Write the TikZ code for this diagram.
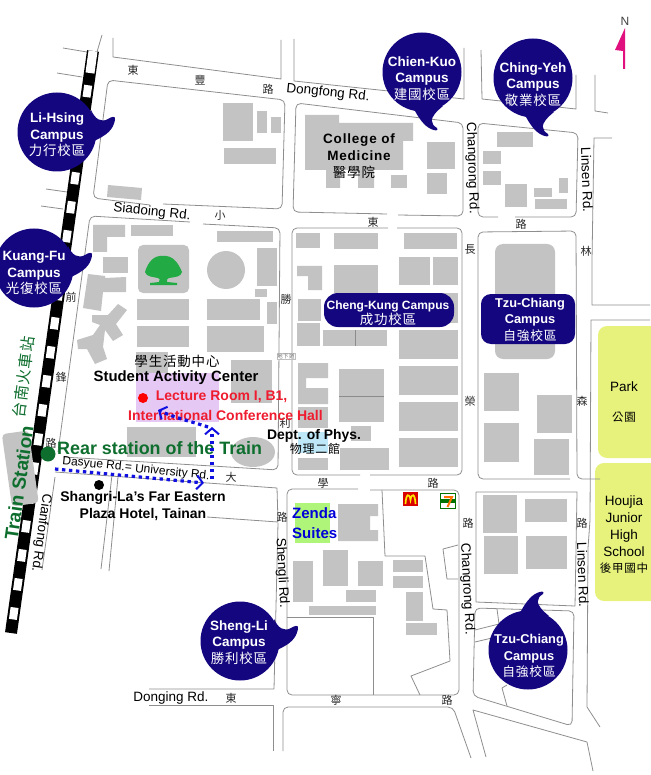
\documentclass[tikz,border=0pt]{standalone}
\usepackage{fontspec}
\setmainfont{Liberation Sans}
\newfontfamily\cjk[LetterSpace=6]{Noto Sans CJK TC}
\newfontfamily\widebf[LetterSpace=6]{Liberation Sans Bold}
\usetikzlibrary{arrows.meta}
\definecolor{campus}{HTML}{14067F}
\definecolor{bldg}{HTML}{C3C3C3}
\definecolor{street}{HTML}{8E8E8E}
\definecolor{parkgreen}{HTML}{E6F27C}
\definecolor{stationgreen}{HTML}{0E6E2E}
\definecolor{route}{HTML}{1010E0}
\definecolor{hall}{HTML}{EE1C2E}
\definecolor{northarrow}{HTML}{E0107F}
\newcommand{\zh}[1]{{\cjk\mdseries #1}}
\tikzset{
  street/.style={draw=street,line width=0.8pt,line join=round},
  blockline/.style={street,rounded corners=5pt},
  campustxt/.style={text=white,align=center,inner sep=0pt,font=\bfseries\fontsize{13.5}{16.5}\selectfont},
  tzutxt/.style={campustxt,font=\bfseries\fontsize{12.8}{16.5}\selectfont},
  maplabel/.style={inner sep=0pt,align=center,font=\fontsize{13.5}{15}\selectfont},
  boldlabel/.style={maplabel,font=\bfseries\fontsize{14}{17.5}\selectfont},
  roadch/.style={inner sep=0pt,text=black!85,font=\cjk\fontsize{11}{11}\selectfont},
  routeline/.style={draw=route,line width=3.2pt,dash pattern=on 3.4pt off 3.6pt,-{Straight Barb[length=6pt,width=14pt,line width=2pt]}},
  pics/tailright/.style={code={
    \fill[campus] (34,-22) .. controls (38,-13) and (44,-9) .. (51,-13) .. controls (54,-15) and (59,-17) .. (58,-12) .. controls (56,-2) and (50,3) .. (37,9) -- cycle;}},
  pics/taildown/.style={code={
    \fill[campus] (-8,37) .. controls (-4,45) and (2,54) .. (9,57) .. controls (13,59) and (17,59) .. (15,56) .. controls (9,52) and (5,47) .. (21,34) -- cycle;}},
}
\begin{document}
\begin{tikzpicture}[x=1pt,y=-1pt]
  \useasboundingbox (0,0) rectangle (650,775);
  % parks and coloured plots
  \fill[parkgreen,rounded corners=9pt] (598,326) rectangle (665,458);
  \fill[parkgreen,rounded corners=9pt] (595,463) rectangle (665,601);
  \fill[fill={rgb,255:red,230;green,200;blue,245}] (136,373) rectangle (219,422);
  \fill[fill={rgb,255:red,190;green,232;blue,248}] (298,432) rectangle (328,453);
  \fill[fill={rgb,255:red,174;green,245;blue,122}] (295,503) rectangle (330,543);
  % buildings
  \foreach \xa/\ya/\xb/\yb in {223/103/253/141,257/111/267/133,271/117/281/133,224/148/276/164,
    131/225/173/236,103/257/128/273,137/299/189/320,137/326/189/347,207/299/260/320,207/326/264/352,
    217/231/273/242,257/248/277/286,255/289/267/297,267/302/277/324,136/352/168/373,231/360/272/403,
    127/427/196/457,391/175/407/188,427/142/455/169,427/173/447/194,
    497/132/533/147,483/151/501/164,483/171/501/185,505/184/527/207,534/188/552/197,559/178/568/193,535/199/567/209,
    296/233/320/248,334/233/378/249,404/233/457/249,399/257/430/285,433/257/458/285,334/265/378/293,
    298/299/321/321,297/323/320/346,323/330/387/346,399/293/458/323,399/330/458/359,399/366/458/395,
    399/402/458/431,399/438/458/467,339/369/384/422,298/407/328/428,298/458/328/470,351/426/371/441,340/448/389/470,
    484/373/519/411,484/423/519/462,537/395/572/433,534/439/569/475,
    483/495/517/533,525/499/567/522,484/536/518/574,526/536/567/569,
    323/550/348/586,293/561/313/602,358/561/383/586,393/560/423/572,393/576/423/588,
    346/590/376/602,309/606/376/615,406/592/423/621,406/623/437/635}
    \fill[bldg] (\xa,\ya) rectangle (\xb,\yb);
  \fill[bldg] (108,185) -- (142,188) -- (141,200) -- (107,197) -- cycle;
  \fill[bldg] (93,225) -- (125,225) -- (125,237) -- (107,237) -- (107,252) -- (93,252) -- cycle;
  \fill[bldg] (88,274) -- (105,276) -- (105,278) -- (126,277) -- (126,292) -- (103,292) -- (101,311) -- (83,308) -- cycle;
  \fill[bldg] (118,304) -- (127,310) -- (116,324) -- (123,335) -- (113,341) -- (105,330) -- (103,347) -- (107,359)
    -- (95,364) -- (87,349) -- (78,349) -- (77,340) -- (93,335) -- (100,325) -- (92,322) -- (92,315) -- (108,315) -- cycle;
  \fill[bldg,rounded corners=5pt] (138,245) rectangle (189,293);
  \fill[bldg] (226,270) circle (19pt);
  \fill[bldg] (253,452) ellipse (22pt and 15pt);
  \fill[bldg] (305,115) -- (339,115) -- (339,123) -- (413,123) -- (413,141) -- (403,141) -- (403,170) -- (374,170) -- (374,188)
    -- (358,188) -- (358,170) -- (340,170) -- (340,188) -- (326,188) -- (326,170) -- (305,170) -- cycle;
  \fill[bldg] (297,266) -- (322,266) -- (322,290) -- (308,290) -- (308,276) -- (297,276) -- cycle;
  \fill[bldg] (298,363) -- (328,363) -- (328,378) -- (306,378) -- (306,388) -- (328,388) -- (328,404) -- (298,404) -- cycle;
  \fill[bldg] (338,504) -- (378,504) -- (378,516) -- (370,516) -- (370,530) -- (378,530) -- (378,541) -- (338,541) -- cycle;
  \fill[bldg,rounded corners=8pt] (495,244) rectangle (555,359);
  \draw[black!45,line width=0.8pt] (355,330) -- (355,346);
  \draw[black!45,line width=0.8pt] (339,396) -- (384,396);
  % tree
  \fill[fill={rgb,255:red,34;green,170;blue,68}] (163,256) .. controls (154,255) and (148,262) .. (145,272) .. controls (146,277) and (154,277) .. (158,278)
    .. controls (160,279) .. (159,282) -- (150,283) -- (150,285) -- (177,285) -- (177,283) -- (167,282) .. controls (167,279) .. (169,278)
    .. controls (175,277) and (181,277) .. (182,272) .. controls (178,262) and (172,255) .. (163,256) -- cycle;
  % streets
  \draw[street] (113,38) -- (113,57) -- (281,79) -- (281,40);
  \draw[street] (294,39) -- (294,81) -- (464,99) -- (464,48);
  \draw[street] (481,50) -- (482,99) -- (576,109) -- (576,75);
  \draw[street] (595,75) -- (595,111) -- (608,113);
  \draw[street] (63,48) -- (87,52);
  \draw[street] (57,73) -- (82,77);
  \draw[street] (46,189) -- (67,192);
  \draw[street] (41,206) -- (63,209);
  \draw[street] (102,35) -- (97,52);
  \draw[blockline] (150,205) -- (93,198) -- (108,80) -- (285,100) -- (282,209) -- (163,204);
  \draw[blockline] (387,214) -- (293,212) -- (296,103) -- (463,123) -- (463,216) -- (398,215);
  \draw[blockline] (498,217) -- (478,217) -- (478,123) -- (578,133) -- (576,217) -- (515,217);
  \draw[street] (612,138) -- (594,138) -- (592,260) -- (592,305) -- (650,305);
  \draw[street] (650,320) -- (591,320) -- (590,520) -- (588,548) -- (587,707) -- (600,727);
  \draw[blockline] (190,222) -- (90,216) -- (58,452);
  \draw[blockline] (203,224) -- (280,228) -- (278,470) -- (63,457);
  \draw[blockline] (388,228) -- (292,228) -- (292,475) -- (360,475);
  \draw[blockline] (397,228) -- (462,228) -- (462,475) -- (370,475);
  \draw[blockline] (570,479) -- (478,479) -- (478,232) -- (576,231) -- (577,479) -- (600,479);
  \draw[street] (55,477) -- (42,570);
  \draw[street] (118,477) -- (109,571);
  \draw[street] (112,475) -- (101,569);
  \draw[street] (55,472) -- (277,488) -- (278,522) -- (207,517);
  \draw[street] (278,523) -- (274,689) -- (149,689);
  \draw[street] (149,705) -- (273,705) -- (273,751);
  \draw[blockline] (283,751) -- (283,707) -- (453,707) -- (471,758);
  \draw[blockline] (358,489) -- (287,489) -- (287,695) -- (459,695) -- (459,490) -- (370,490);
  \draw[street] (382,490) -- (385,556) -- (425,556) -- (433,609) -- (447,610) -- (450,661) -- (411,676) -- (420,695);
  \draw[street] (287,617) -- (373,617) -- (373,695);
  \draw[street] (443,549) -- (458,545);
  \draw[street] (443,549) -- (447,579) -- (458,579);
  \draw[street] (476,492) -- (577,492) -- (575,606) -- (476,602) -- cycle;
  \draw[blockline] (475,608) -- (574,611) -- (572,726) -- (473,696) -- cycle;
  \draw[street] (497,609) -- (499,624) -- (475,630);
  \draw[street] (475,642) -- (492,638);
  \draw[street] (507,685) -- (502,688) -- (507,706);
  \draw[street] (486,757) -- (473,710) -- (587,742) -- (593,771);
  % railway
  \draw[black,line width=12pt] (93,51) -- (11,633);
  \draw[white,line width=8pt,dash pattern=on 12pt off 17.3pt,dash phase=24pt] (93,51) -- (11,633);
  \draw[white,line width=9pt] (93,51) -- (90,73);
  % train station
  \fill[bldg,rounded corners=4pt,rotate around={8:(20,470)}] (7,432) rectangle (34,505);
  \node[inner sep=0pt,text=stationgreen,rotate=82,font=\bfseries\fontsize{19}{19}\selectfont] (station) at (19,483) {Train Station};
  \node[inner sep=0pt,text=stationgreen,rotate=83,font=\cjk\fontsize{15.5}{15.5}\selectfont] (stationzh) at (24,377) {台南火車站};
  % single road characters
  \foreach \i/\px/\py/\ch in {1/133/70/東,2/200/80/豐,3/268/89/路,4/220/215/小,5/373/222/東,6/521/224/路,7/470/250/長,
    8/586/251/林,9/71/297/前,10/286/299/勝,11/61/377/鋒,12/51/443/路,13/285/423/利,14/231/477/大,15/323/483/學,
    16/433/483/路,17/470/401/榮,18/582/401/森,19/282/517/路,20/468/523/路,21/582/523/路,22/231/698/東,23/336/700/寧,24/447/700/路}
    \node[roadch] (rc\i) at (\px,\py) {\ch};
  \node[draw=black!25,fill=white,inner sep=0.6pt,text=black!60,font=\cjk\fontsize{5.5}{6}\selectfont] (tunnel) at (286,356) {地下道};
  % road names
  \node[maplabel,rotate=-6] (dongfong) at (328,93) {Dongfong Rd.};
  \node[maplabel,rotate=-6] (siadoing) at (152,212) {Siadoing Rd.};
  \node[maplabel,rotate=-88] (changrongN) at (472,168) {Changrong Rd.};
  \node[maplabel,rotate=-87] (changrongS) at (467,589) {Changrong Rd.};
  \node[maplabel,rotate=-88] (linsenN) at (587,180) {Linsen Rd.};
  \node[maplabel,rotate=-88] (linsenS) at (583,575) {Linsen Rd.};
  \node[maplabel,rotate=-87] (shenglird) at (282,573) {Shengli Rd.};
  \node[maplabel] (donging) at (171,698) {Donging Rd.};
  \node[maplabel,rotate=-98] (cianfong) at (41,533) {Cianfong Rd.};
  \node[maplabel,rotate=-6,font=\fontsize{12}{12}\selectfont] (dasyue) at (136,469) {Dasyue Rd.= University Rd.};
  % places
  \node[inner sep=0pt,font=\cjk\fontsize{13.5}{14}\selectfont] (sacZh) at (177,361) {學生活動中心};
  \node[boldlabel,font=\bfseries\fontsize{14.9}{17.5}\selectfont] (sac) at (176,378) {Student Activity Center};
  \node[boldlabel,anchor=west,text=hall,font=\bfseries\fontsize{14}{14}\selectfont] (roomA) at (155.7,397) {Lecture Room I, B1,};
  \node[boldlabel,anchor=west,text=hall,font=\bfseries\fontsize{14}{14}\selectfont] (roomB) at (128,415) {International Conference Hall};
  \node[boldlabel,font=\bfseries\fontsize{13.9}{14}\selectfont] (phys) at (314,436) {Dept. of Phys.};
  \node[inner sep=0pt,font=\cjk\fontsize{12}{12}\selectfont] (physZh) at (315,449) {物理二館};
  \node[boldlabel,anchor=west,text=stationgreen,font=\bfseries\fontsize{17.9}{18}\selectfont] (rear) at (57,448) {Rear station of the Train};
  \node[boldlabel] (hotel) at (143,506) {Shangri-La's Far Eastern\\Plaza Hotel, Tainan};
  \node[boldlabel,align=left,text=blue!85!black,font=\bfseries\fontsize{15}{20}\selectfont,anchor=north west] (zenda) at (292,507) {Zenda\\Suites};
  \node[boldlabel,font=\widebf\fontsize{13.5}{16.5}\selectfont] (college) at (359,147) {College of\\Medicine};
  \node[inner sep=0pt,font=\cjk\fontsize{13.5}{14}\selectfont] (collegeZh) at (354,172) {醫學院};
  \node[maplabel] (park) at (624,387) {Park};
  \node[inner sep=0pt,font=\cjk\fontsize{11.5}{12}\selectfont] (parkZh) at (624,417) {公園};
  \node[maplabel,font=\fontsize{13.5}{17}\selectfont] (houjia) at (624,526.5) {Houjia\\Junior\\High\\School};
  \node[inner sep=0pt,font=\cjk\fontsize{11.5}{12}\selectfont] (houjiaZh) at (624,568) {後甲國中};
  % dots
  \fill[stationgreen] (48,454) circle (7.5pt);
  \fill[red] (143,398) circle (5pt);
  \fill[black] (99,485) circle (5pt);
  % route
  \coordinate (r1) at (55,469);
  \coordinate (r2) at (204,483);
  \coordinate (r3) at (212,479);
  \coordinate (r4) at (212,427);
  \coordinate (r5) at (208,427);
  \coordinate (r6) at (158,410);
  \draw[routeline] (r1) -- (r2);
  \draw[routeline] (r3) -- (r4);
  \draw[routeline] (r5) .. controls (190,421) and (175,418) .. (r6);
  % shops
  \fill[red!85!black] (403,492) rectangle (418,506);
  \draw[yellow!90!orange,line width=1.7pt] (405.5,504) .. controls (406,493) and (409.5,493) .. (410.5,500) .. controls (411.5,493) and (415,493) .. (415.5,504);
  \draw[green!45!black,fill=white,line width=1pt] (440.5,493.5) rectangle (455.5,508.5);
  \fill[green!45!black] (441,499) rectangle (455,503);
  \draw[orange!90!red,line width=2pt] (444,497) -- (452,497) -- (447.5,507);
  % campus bubbles
  \pic at (57,132) {tailright};
  \fill[campus] (57,132) circle (39.5pt);
  \node[campustxt] (lihsing) at (57,135) {Li-Hsing\\Campus\\\zh{力行校區}};
  \pic at (34,268) {tailright};
  \fill[campus] (34,268) circle (39.5pt);
  \node[campustxt] (kuangfu) at (34,273) {Kuang-Fu\\Campus\\\zh{光復校區}};
  \pic at (422,72) {taildown};
  \fill[campus] (422,72) circle (39.5pt);
  \node[campustxt] (chienkuo) at (422,78.5) {Chien-Kuo\\Campus\\\zh{建國校區}};
  \pic at (533,78) {taildown};
  \fill[campus] (533,78) circle (39.5pt);
  \node[campustxt] (chingyeh) at (533,84.5) {Ching-Yeh\\Campus\\\zh{敬業校區}};
  \pic at (240,641) {tailright};
  \fill[campus] (240,641) circle (39.5pt);
  \node[campustxt] (shengli) at (239,642.5) {Sheng-Li\\Campus\\\zh{勝利校區}};
  \pic[yscale=-1] at (528,650) {taildown};
  \fill[campus] (528,650) circle (39.5pt);
  \node[tzutxt] (tzuchiangS) at (529,656) {Tzu-Chiang\\Campus\\\zh{自強校區}};
  \fill[campus,rounded corners=14pt] (324,293) rectangle (454,327);
  \node[campustxt,font=\bfseries\fontsize{12}{15.5}\selectfont] (chengkung) at (388,313) {Cheng-Kung Campus\\{\cjk\mdseries\fontsize{13.5}{15.5}\selectfont 成功校區}};
  \fill[campus,rounded corners=10pt] (481,294) rectangle (575,344);
  \node[tzutxt] (tzuchiangN) at (530,319.5) {Tzu-Chiang\\Campus\\\zh{自強校區}};
  % north arrow
  \node[inner sep=0pt,text=black!75,font=\fontsize{12}{12}\selectfont] (north) at (625,21) {N};
  \fill[northarrow] (625,28) -- (615,50) -- (623,51) -- (623,69) -- (625,69) -- cycle;
\end{tikzpicture}
\end{document}
